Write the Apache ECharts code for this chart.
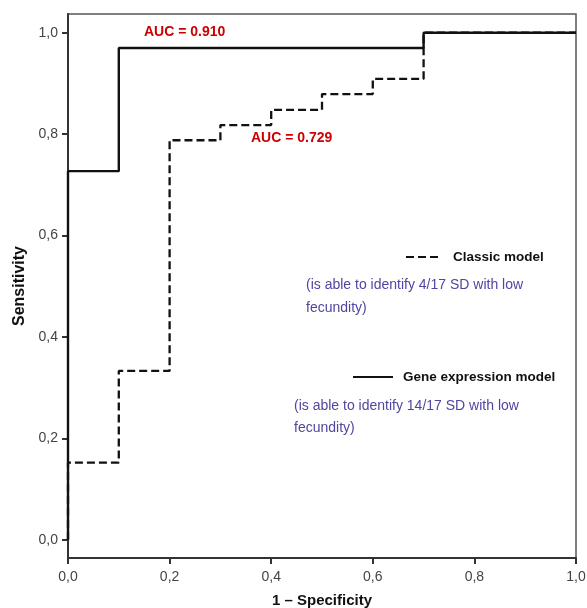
<!DOCTYPE html>
<html>
<head>
<meta charset="utf-8">
<script src="https://cdn.jsdelivr.net/npm/echarts@6/dist/echarts.min.js"></script>
<style>
  html, body { margin: 0; padding: 0; background: #fff; }
  #roc { width: 587px; height: 608px; }
</style>
</head>
<body>
<div id="roc"></div>
<script>
  // ROC 数据 (1 - specificity, sensitivity)
  var geneFpr = [0, 0, 0.1, 0.7, 1.0];
  var geneTpr = [0, 0.727, 0.970, 1.0, 1.0];
  var classicFpr = [0, 0, 0.1, 0.2, 0.3, 0.4, 0.5, 0.6, 0.7, 1.0];
  var classicTpr = [0, 0.152, 0.333, 0.788, 0.818, 0.848, 0.879, 0.909, 1.0, 1.0];
  var tickValues = [0, 0.2, 0.4, 0.6, 0.8, 1.0];
  var seriesNames = ['Classic model', 'Gene expression model'];
  var aucTexts = ['AUC = 0.729', 'AUC = 0.910'];
  var noteTexts = [
    '(is able to identify 4/17 SD with low\nfecundity)',
    '(is able to identify 14/17 SD with low\nfecundity)'
  ];

  function pairs(xs, ys) {
    var out = [];
    for (var i = 0; i < xs.length; i++) {
      out.push([xs[i], ys[i]]);
    }
    return out;
  }

  function comma(v) {
    return v.toFixed(1).replace('.', ',');
  }

  var font = 'Liberation Sans, Arial, sans-serif';

  var rocChart = echarts.init(document.getElementById('roc'));

  var rocOption = {
    animation: false,
    textStyle: { fontFamily: font },
    grid: {
      left: 68,
      right: 11,
      top: 14,
      bottom: 50,
      outerBoundsMode: 'none',
      show: true,
      borderColor: '#555',
      borderWidth: 1.5
    },
    // 图例
    legend: [{
        data: [seriesNames[0]],
        left: 400,
        top: 245,
        itemWidth: 36,
        itemHeight: 14,
        itemStyle: { opacity: 0 },
        textStyle: {
          fontFamily: font,
          fontWeight: 'bold',
          fontSize: 13.5,
          color: '#111',
          padding: [0, 0, 0, 6]
        }
      },
      {
        data: [seriesNames[1]],
        left: 347,
        top: 365,
        itemWidth: 40,
        itemHeight: 14,
        itemStyle: { opacity: 0 },
        textStyle: {
          fontFamily: font,
          fontWeight: 'bold',
          fontSize: 13.5,
          color: '#111',
          padding: [0, 0, 0, 5]
        }
      }
    ],
    xAxis: {
      type: 'value',
      min: 0,
      max: 1,
      interval: 0.2,
      name: '1 \u2013 Specificity',
      nameLocation: 'middle',
      nameGap: 35,
      nameTextStyle: {
        fontFamily: font,
        fontWeight: 'bold',
        fontSize: 15,
        color: '#111'
      },
      axisLine: {
        onZero: false,
        lineStyle: { color: '#333', width: 2 }
      },
      axisTick: {
        length: 6,
        lineStyle: { color: '#333', width: 2 }
      },
      axisLabel: {
        fontSize: 14,
        color: '#444',
        margin: 12,
        formatter: function (v) { return comma(v); }
      },
      splitLine: { show: false }
    },
    yAxis: {
      type: 'value',
      min: -0.036,
      max: 1.037,
      name: 'Sensitivity',
      nameLocation: 'middle',
      nameGap: 40,
      nameRotate: 90,
      nameTextStyle: {
        fontFamily: font,
        fontWeight: 'bold',
        fontSize: 16,
        color: '#111'
      },
      axisLine: {
        onZero: false,
        lineStyle: { color: '#333', width: 2 }
      },
      axisTick: {
        length: 6,
        customValues: tickValues,
        lineStyle: { color: '#333', width: 2 }
      },
      axisLabel: {
        fontSize: 14,
        color: '#444',
        margin: 10,
        customValues: tickValues,
        formatter: function (v) { return comma(v); }
      },
      splitLine: { show: false }
    },
    graphic: [{
        type: 'text',
        left: 144,
        top: 25,
        style: {
          text: aucTexts[1],
          fill: '#cc0000',
          font: 'bold 14px ' + font
        }
      },
      {
        type: 'text',
        left: 251,
        top: 131,
        style: {
          text: aucTexts[0],
          fill: '#cc0000',
          font: 'bold 14px ' + font
        }
      },
      {
        type: 'text',
        left: 306,
        top: 274,
        style: {
          text: noteTexts[0],
          fill: '#4f46a0',
          font: '14px ' + font,
          lineHeight: 23
        }
      },
      {
        type: 'text',
        left: 294,
        top: 395,
        style: {
          text: noteTexts[1],
          fill: '#4f46a0',
          font: '14px ' + font,
          lineHeight: 22
        }
      }
    ],
    series: [{
        name: seriesNames[0],
        type: 'line',
        step: 'end',
        symbol: 'none',
        z: 2,
        data: pairs(classicFpr, classicTpr),
        itemStyle: { color: '#111' },
        lineStyle: {
          color: '#111',
          width: 2.3,
          type: [8, 4]
        }
      },
      {
        name: seriesNames[1],
        type: 'line',
        step: 'end',
        symbol: 'none',
        z: 3,
        data: pairs(geneFpr, geneTpr),
        itemStyle: { color: '#111' },
        lineStyle: {
          color: '#111',
          width: 2.4
        }
      }
    ]
  };
  rocChart.setOption(rocOption);
</script>
</body>
</html>
